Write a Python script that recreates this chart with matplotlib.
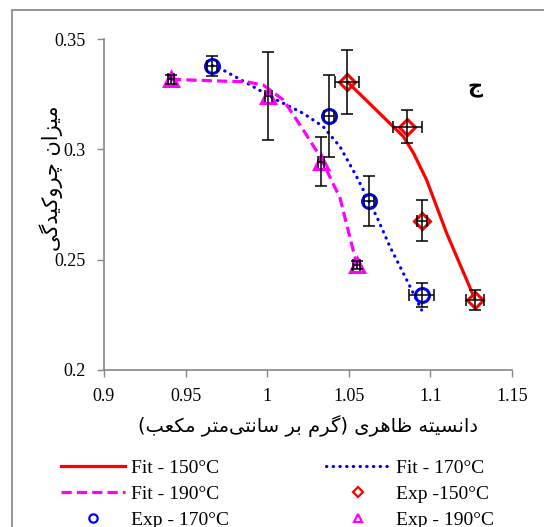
import matplotlib
matplotlib.use('Agg')
import matplotlib.pyplot as plt
from matplotlib.lines import Line2D
from matplotlib.patches import Rectangle

# --- fit curves
fit150_x = [1.049, 1.0834, 1.0895, 1.0977, 1.110, 1.1275]
fit150_y = [0.3307, 0.3058, 0.2985, 0.2861, 0.2619, 0.2317]
fit170_x = [0.9664, 0.9721, 0.9895, 1.0058, 1.0221, 1.0343, 1.0446, 1.0548, 1.0671, 1.0752, 1.0855, 1.0946]
fit170_y = [0.3379, 0.3363, 0.3292, 0.3224, 0.3163, 0.3103, 0.3012, 0.2876, 0.2695, 0.2559, 0.2408, 0.2272]
fit190_x = [0.9411, 0.9731, 0.9874, 0.9976, 1.0099, 1.0221, 1.0324, 1.0446, 1.0548]
fit190_y = [0.3317, 0.3309, 0.3306, 0.3291, 0.3224, 0.3088, 0.2967, 0.2780, 0.2480]

# --- experimental points with error bars
exp150_x = [1.049, 1.0859, 1.095, 1.1275]
exp150_y = [0.3307, 0.3103, 0.2677, 0.2317]
exp150_yerr = [0.0145, 0.0076, 0.0093, 0.0047]
exp150_xerr = [0.0075, 0.009, 0.003, 0.0054]
exp170_x = [0.9664, 1.0379, 1.0622, 1.0946]
exp170_y = [0.3379, 0.315, 0.2766, 0.234]
exp170_yerr = [0.0045, 0.0185, 0.0113, 0.0055]
exp170_xerr = [0.003, 0.003, 0.003, 0.0076]
exp190_x = [0.9411, 1.0007, 1.033, 1.0548]
exp190_y = [0.3317, 0.3242, 0.2944, 0.2476]
exp190_yerr = [0.002, 0.020, 0.011, 0.002]
exp190_xerr = [0.002, 0.002, 0.002, 0.002]

xticks = [0.9, 0.95, 1, 1.05, 1.1, 1.15]
xticklabels = ['0.9', '0.95', '1', '1.05', '1.1', '1.15']
yticks = [0.2, 0.25, 0.3, 0.35]
yticklabels = ['0.2', '0.25', '0.3', '0.35']

xlabel_fa = 'دانسیته ظاهری (گرم بر سانتی\u200cمتر مکعب)'
ylabel_fa = 'میزان چروکیدگی'
panel_fa = 'ج'

# matplotlib 3.10 does no arabic shaping / bidi, so do it by hand
FORMS = {  # isolated, final, initial, medial
    'ا': ('\uFE8D', '\uFE8E', None, None),
    'ب': ('\uFE8F', '\uFE90', '\uFE91', '\uFE92'),
    'ت': ('\uFE95', '\uFE96', '\uFE97', '\uFE98'),
    'ج': ('\uFE9D', '\uFE9E', '\uFE9F', '\uFEA0'),
    'چ': ('\uFB7A', '\uFB7B', '\uFB7C', '\uFB7D'),
    'د': ('\uFEA9', '\uFEAA', None, None),
    'ر': ('\uFEAD', '\uFEAE', None, None),
    'ز': ('\uFEAF', '\uFEB0', None, None),
    'س': ('\uFEB1', '\uFEB2', '\uFEB3', '\uFEB4'),
    'ظ': ('\uFEC5', '\uFEC6', '\uFEC7', '\uFEC8'),
    'ع': ('\uFEC9', '\uFECA', '\uFECB', '\uFECC'),
    'ک': ('\uFB8E', '\uFB8F', '\uFB90', '\uFB91'),
    'گ': ('\uFB92', '\uFB93', '\uFB94', '\uFB95'),
    'م': ('\uFEE1', '\uFEE2', '\uFEE3', '\uFEE4'),
    'ن': ('\uFEE5', '\uFEE6', '\uFEE7', '\uFEE8'),
    'ه': ('\uFEE9', '\uFEEA', '\uFEEB', '\uFEEC'),
    'و': ('\uFEED', '\uFEEE', None, None),
    'ی': ('\uFBFC', '\uFBFD', '\uFBFE', '\uFBFF'),
}


def shape(s):
    out = []
    for i, c in enumerate(s):
        f = FORMS.get(c)
        if f is None:
            if c != '\u200c':
                out.append(c)
            continue
        prev = s[i - 1] if i > 0 else ''
        nxt = s[i + 1] if i + 1 < len(s) else ''
        jp = prev in FORMS and FORMS[prev][2] is not None
        jn = nxt in FORMS and f[2] is not None
        idx = 3 if (jp and jn) else 1 if jp else 2 if jn else 0
        out.append(f[idx])
    mirror = {'(': ')', ')': '('}
    return ''.join(mirror.get(c, c) for c in reversed(out))


serif = 'Liberation Serif'
fa_font = ['DejaVu Sans']
grey = '#878787'

fig = plt.figure(figsize=(5.44, 5.27), dpi=100)
ax = fig.add_axes([104 / 544, 1 - 370 / 527, 408 / 544, 331 / 527])

# fit lines
ax.plot(fit150_x, fit150_y, color='#ff0000', lw=2.3, solid_capstyle='butt', zorder=2)
ax.plot(fit170_x, fit170_y, color='#0000ff', lw=2.3, linestyle=(0, (0.1, 2.0)),
        dash_capstyle='round', zorder=2)
ax.plot(fit190_x, fit190_y, color='#ff00ff', lw=2.3, linestyle=(0, (3.2, 1.6)), zorder=2)

# experimental markers
mk = dict(linestyle='none', markerfacecolor='none', markeredgewidth=2.2, zorder=3)
ax.plot(exp150_x, exp150_y, marker='D', markersize=8.5, markeredgecolor='#ff0000', **mk)
ax.plot(exp170_x, exp170_y, marker='o', markersize=10, markeredgecolor='#0000ff', **mk)
ax.plot(exp190_x, exp190_y, marker='^', markersize=10, markeredgecolor='#ff00ff', **mk)

eb = dict(fmt='none', ecolor='black', elinewidth=1.1, capsize=4.3, capthick=1.1, zorder=4)
ax.errorbar(exp150_x, exp150_y, yerr=exp150_yerr, xerr=exp150_xerr, **eb)
ax.errorbar(exp170_x, exp170_y, yerr=exp170_yerr, xerr=exp170_xerr, **eb)
ax.errorbar(exp190_x, exp190_y, yerr=exp190_yerr, xerr=exp190_xerr, **eb)

ax.set_xlim(0.9, 1.15)
ax.set_ylim(0.2, 0.35)
ax.set_xticks(xticks)
ax.set_xticklabels(xticklabels, fontsize=13, family=serif)
ax.set_yticks(yticks)
ax.set_yticklabels(yticklabels, fontsize=13, family=serif)
ax.tick_params(direction='out', length=5, width=1, color=grey, pad=8)
for side in ['top', 'right']:
    ax.spines[side].set_visible(False)
for side in ['left', 'bottom']:
    ax.spines[side].set_color(grey)
    ax.spines[side].set_linewidth(1.2)
ax.patch.set_alpha(0)

ax.set_xlabel(shape(xlabel_fa), fontsize=14, family=fa_font, labelpad=7)
fig.text(51 / 544, 1 - 178 / 527, shape(ylabel_fa), rotation=90, fontsize=15,
         family=fa_font, ha='center', va='center')
ax.text(0.909, 0.852, shape(panel_fa), transform=ax.transAxes, fontsize=15,
        fontweight='bold', family=fa_font, ha='center', va='center')

# legend below the plot
handles = [
    Line2D([], [], color='#ff0000', lw=2.3),
    Line2D([], [], color='#ff00ff', lw=2.3, linestyle=(0, (3.2, 1.6))),
    Line2D([], [], linestyle='none', marker='o', markersize=6, markerfacecolor='none',
           markeredgecolor='#0000ff', markeredgewidth=1.6),
    Line2D([], [], color='#0000ff', lw=2.3, linestyle=(0, (0.1, 2.0)), dash_capstyle='round'),
    Line2D([], [], linestyle='none', marker='D', markersize=5, markerfacecolor='none',
           markeredgecolor='#ff0000', markeredgewidth=1.6),
    Line2D([], [], linestyle='none', marker='^', markersize=6, markerfacecolor='none',
           markeredgecolor='#ff00ff', markeredgewidth=1.6),
]
labels = ['Fit - 150°C', 'Fit - 190°C', 'Exp - 170°C',
          'Fit - 170°C', 'Exp -150°C', 'Exp - 190°C']
fig.legend(handles, labels, loc='upper left', bbox_to_anchor=(61 / 544, 1 - 459 / 527),
           ncol=2, frameon=False, prop={'family': serif, 'size': 14},
           handlelength=3.3, handletextpad=0.3, columnspacing=5.0, labelspacing=0.43,
           borderaxespad=0, borderpad=0)

# outer frame of the chart area
fig.add_artist(Rectangle((12 / 544, -0.1), 2.0, 1.1 - 10 / 527, transform=fig.transFigure,
                         fill=False, edgecolor='#8c8c8c', lw=1.3))

fig.savefig('out.png', dpi=100)
